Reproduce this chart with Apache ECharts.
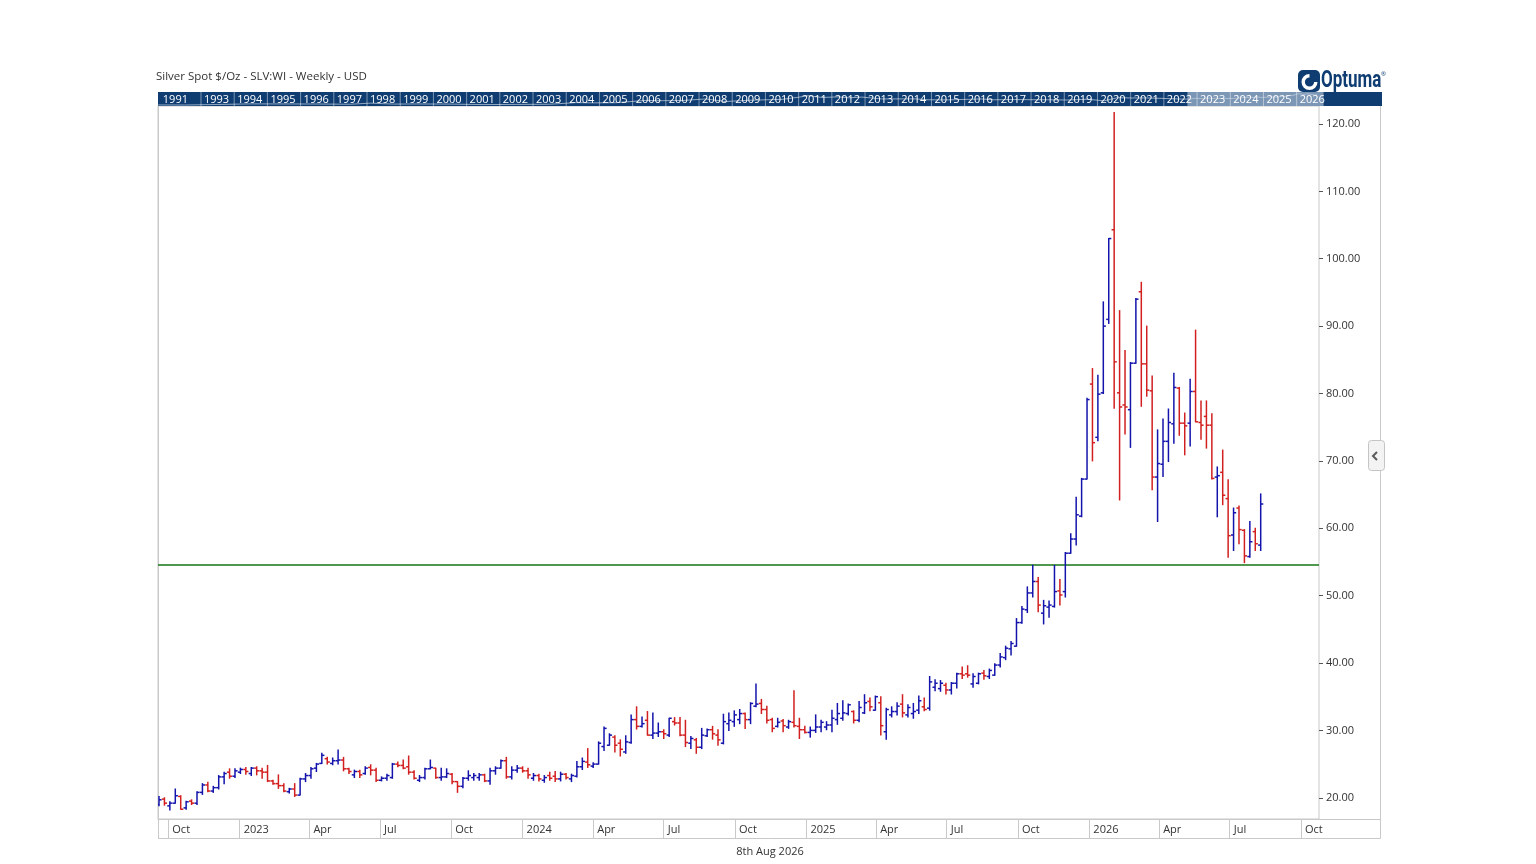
<!DOCTYPE html>
<html>
<head>
<meta charset="utf-8">
<script src="https://cdn.jsdelivr.net/npm/echarts@6.0.0/dist/echarts.min.js"></script>
<style>
  html, body { margin: 0; padding: 0; background: #ffffff; }
  #chart { width: 1536px; height: 864px; }
</style>
</head>
<body>
<div id="chart"></div>
<script>
// ---------- DATA (weekly OHLC) ----------
const firstWeek = '2022-09-19';   // date of the first weekly bar
const opens = [
 19.0,19.8,18.8,19.2,20.2,18.5,19.5,19.2,20.8,21.9,
 21.0,21.5,23.1,23.8,23.2,23.8,24.2,23.6,24.4,24.0,
 23.8,22.5,22.1,21.8,20.9,21.3,20.4,22.8,23.3,24.4,
 25.1,25.8,25.1,25.5,25.6,24.3,23.4,23.9,23.6,24.5,
 24.1,22.6,22.9,23.0,25.0,24.8,24.6,23.8,22.6,23.0,
 24.3,24.4,23.0,23.1,23.5,22.4,21.7,22.9,23.0,23.0,
 23.4,22.5,24.0,24.4,25.5,23.1,24.1,24.4,24.0,22.9,
 23.3,22.6,23.3,23.2,22.8,23.5,22.8,23.2,24.6,25.3,
 24.7,25.0,27.6,27.8,29.0,28.1,26.8,28.2,31.6,30.6,
 31.5,29.3,29.6,29.8,29.3,31.3,31.1,29.3,28.1,28.6,
 27.5,29.2,30.1,29.3,28.1,31.0,31.3,31.6,32.5,31.6,
 33.6,34.0,33.1,31.6,30.6,31.4,30.5,31.2,30.6,30.1,
 29.7,30.0,30.5,30.5,30.8,31.6,31.8,32.5,32.8,31.5,
 32.6,34.3,33.0,34.1,29.8,32.3,32.8,33.9,32.3,32.5,
 33.0,33.5,33.3,36.4,36.2,36.7,36.0,37.0,38.4,38.4,
 36.9,37.0,38.5,38.0,38.2,39.7,40.8,42.1,42.5,46.0,
 47.9,50.4,52.1,47.4,48.3,48.4,50.7,50.6,56.3,58.4,
 61.8,67.3,81.4,73.5,80.1,91.0,104.3,80.1,78.3,77.6,
 84.5,95.1,84.4,80.4,67.6,69.5,72.9,75.5,80.8,75.6,
 75.6,80.3,75.7,76.6,75.3,67.6,68.3,64.4,59.0,63.0,
 59.7,55.8,59.5,57.5
];
const highs = [
 20.2,20.0,19.4,21.3,20.3,19.5,19.7,20.9,22.1,22.3,
 21.7,23.3,23.8,24.3,24.3,24.4,24.5,24.5,24.6,24.4,
 24.8,22.6,23.4,22.1,21.4,22.1,22.9,23.6,24.5,25.1,
 26.6,26.0,25.9,27.1,26.0,24.4,24.1,24.1,24.6,24.9,
 24.4,23.1,23.5,25.1,25.3,25.6,26.2,24.0,23.3,24.4,
 25.6,24.4,24.4,24.3,23.6,22.4,23.0,24.0,23.6,23.6,
 23.5,24.4,24.6,25.6,26.0,24.6,24.8,24.6,24.4,23.6,
 23.5,23.3,23.8,23.9,23.8,23.6,23.5,25.4,25.9,27.3,
 25.2,28.3,30.5,29.5,29.2,28.6,29.2,32.3,33.5,32.0,
 32.8,32.6,31.1,30.1,31.8,31.9,31.9,31.5,29.1,28.8,
 30.3,30.2,30.6,30.1,32.4,32.6,32.9,33.1,32.6,34.1,
 36.9,34.6,33.6,31.8,31.8,31.6,31.5,35.9,31.8,30.6,
 30.5,32.3,31.5,31.3,33.0,34.0,34.4,33.9,32.9,34.3,
 35.3,34.8,35.1,35.0,33.3,33.5,34.1,35.3,33.8,34.0,
 35.1,34.8,38.0,37.5,37.4,37.0,37.1,38.5,39.4,39.6,
 38.4,38.5,38.9,39.1,39.9,41.4,42.5,43.2,46.6,48.4,
 51.3,54.5,52.7,49.3,49.2,54.5,52.4,56.4,59.2,64.6,
 67.4,79.3,83.7,82.7,93.6,103.0,121.7,92.3,86.4,84.6,
 94.1,96.5,90.0,82.6,74.6,76.2,77.7,83.0,80.9,77.1,
 82.1,89.4,78.9,78.9,77.0,69.1,71.6,67.2,63.0,63.3,
 59.8,61.0,60.0,65.1
];
const lows = [
 18.8,18.9,18.2,19.2,18.3,18.3,19.0,19.0,20.5,20.9,
 20.8,21.3,22.1,22.9,23.0,23.6,23.5,23.3,23.4,22.9,
 22.4,22.0,21.4,20.9,20.7,20.2,20.4,22.4,22.9,23.9,
 25.1,25.0,24.9,25.0,24.0,23.6,23.0,23.0,23.5,23.4,
 22.4,22.5,22.6,22.9,24.6,24.3,23.5,22.8,22.4,22.8,
 24.3,22.9,22.6,23.0,22.1,20.8,21.5,22.6,22.6,22.6,
 22.4,22.0,23.5,24.4,22.9,22.8,23.8,23.8,22.9,22.6,
 22.5,22.3,22.6,22.4,22.5,22.8,22.4,23.1,24.2,24.5,
 24.5,25.0,27.0,27.8,26.8,26.2,26.6,28.1,30.2,30.5,
 29.3,28.8,29.1,28.8,29.1,30.8,29.2,27.6,27.3,26.6,
 27.3,29.1,28.7,27.8,28.0,30.0,30.6,31.0,30.3,31.0,
 33.5,32.5,31.1,29.8,30.5,29.8,30.3,30.5,28.8,29.6,
 29.0,29.7,29.8,30.1,29.8,30.9,31.5,32.3,31.1,31.3,
 32.5,32.9,33.0,29.3,28.7,32.0,32.3,32.0,32.0,31.8,
 32.5,32.9,33.0,35.9,35.8,35.4,35.4,36.3,37.7,37.9,
 36.4,36.9,37.6,37.7,38.2,39.4,40.5,41.2,42.5,45.9,
 47.5,49.8,47.6,45.8,46.8,48.3,48.6,49.8,56.3,57.5,
 61.7,67.3,70.0,73.0,80.0,90.4,77.8,64.2,74.0,72.0,
 84.5,78.1,79.6,65.7,61.0,67.7,69.9,72.6,73.8,70.9,
 72.2,75.8,73.2,71.9,67.3,61.7,63.5,55.7,56.7,57.7,
 54.9,55.7,56.7,56.7
];
const closes = [
 19.7,19.2,19.2,20.3,18.3,19.4,19.2,20.8,21.9,21.0,
 21.5,23.1,23.6,23.2,24.0,24.2,23.9,24.4,24.0,23.8,
 22.5,22.1,21.8,21.0,21.3,20.4,22.8,23.3,24.3,25.0,
 26.3,25.3,25.5,25.6,24.3,23.9,23.9,23.4,24.4,24.1,
 22.6,22.9,23.3,25.0,24.8,24.4,23.8,22.9,23.0,24.3,
 24.5,23.0,23.1,23.6,22.4,21.7,22.9,23.3,23.3,23.4,
 22.5,24.0,24.4,25.5,23.1,24.1,24.4,24.0,23.4,23.3,
 22.8,23.0,22.9,22.8,23.5,23.0,23.3,24.6,25.4,24.9,
 25.0,28.1,30.3,29.3,27.8,27.2,28.3,31.6,30.6,31.0,
 29.3,29.6,29.8,29.5,31.8,31.1,29.3,28.2,28.8,27.5,
 29.3,30.1,29.5,28.6,31.3,31.5,32.3,32.5,31.6,34.0,
 33.9,33.1,31.5,30.3,31.2,30.7,31.3,30.7,30.1,29.7,
 30.0,30.5,31.2,30.8,31.8,32.5,32.6,33.8,31.5,33.4,
 34.1,33.5,35.0,30.7,33.1,32.8,33.6,32.6,33.4,32.8,
 34.4,33.1,37.2,37.0,37.0,36.0,37.0,38.4,38.2,38.2,
 38.0,38.4,38.1,38.9,39.7,40.9,42.2,42.9,46.0,48.0,
 50.4,52.1,48.6,48.5,48.6,50.6,50.1,56.3,58.4,62.0,
 67.3,79.1,72.7,79.9,90.0,103.0,84.7,78.0,78.0,84.5,
 94.0,84.4,80.5,67.6,69.6,72.9,75.7,80.9,75.6,75.2,
 80.3,75.8,75.3,75.3,67.4,67.8,64.9,58.9,62.3,59.8,
 55.9,58.0,57.7,63.6
];
const supportLevel = [54.55];
const priceTicks = [20, 30, 40, 50, 60, 70, 80, 90, 100, 110, 120];
const quarterTicks = [
 '2022-10-01','2023-01-01','2023-04-01','2023-07-01','2023-10-01',
 '2024-01-01','2024-04-01','2024-07-01','2024-10-01',
 '2025-01-01','2025-04-01','2025-07-01','2025-10-01',
 '2026-01-01','2026-04-01','2026-07-01','2026-10-01'
];
const monthNames = ['Jan','Feb','Mar','Apr','May','Jun','Jul','Aug','Sep','Oct','Nov','Dec'];
// overview band (long history of silver, approximate)
const bandYears = [1993,1994,1995,1996,1997,1998,1999,2000,2001,2002,2003,2004,2005,2006,2007,2008,2009,
  2010,2011,2012,2013,2014,2015,2016,2017,2018,2019,2020,2021,2022,2023,2024,2025,2026];
const historyX = [1991.71,1992.5,1993.5,1994.5,1995.5,1996.5,1997.5,1998.1,1998.8,1999.5,2000.5,2001.5,2002.5,
  2003.5,2004.3,2004.8,2005.5,2006.4,2006.9,2007.5,2008.2,2008.8,2009.5,2010.5,2010.95,2011.3,2011.7,2012.2,
  2012.5,2012.9,2013.5,2014.5,2014.9,2015.5,2016.5,2016.9,2017.5,2018.5,2019.1,2019.7,2020.2,2020.6,2021.0,
  2021.5,2022.0,2022.6];
const historyPrice = [4.0,3.9,4.5,5.3,5.2,5.1,4.8,6.5,5.0,5.2,5.0,4.4,4.6,4.8,7.5,7.0,7.3,13.5,12.5,13.2,20,10,
  14,18,30,48,30,35,27,33,20,20.5,16,15.5,20,16,17,16,15,18.5,12,28,26,26,23,19];
const bandWindow = [2022.71, 2026.81];

// ---------- helpers ----------
const DAY = 86400000;
function parseDay(s) { const p = s.split('-').map(Number); return Date.UTC(p[0], p[1] - 1, p[2]); }
const start = parseDay(firstWeek);
const weekDates = opens.map((_, i) => start + i * 7 * DAY);
const quarterMs = quarterTicks.map(parseDay);
const xMin = start - 1.3 * DAY, xMax = start + 1496.2 * DAY;
function yearFrac(ms) {
  const y = new Date(ms).getUTCFullYear();
  const a = Date.UTC(y, 0, 1), b = Date.UTC(y + 1, 0, 1);
  return y + (ms - a) / (b - a);
}
const ohlcData = weekDates.map((d, i) => [d, opens[i], highs[i], lows[i], closes[i]]);
const supportData = [[xMin, supportLevel[0]], [xMax, supportLevel[0]]];
const bandLine = historyX.map((x, i) => [x, historyPrice[i]])
  .concat(weekDates.map((d, i) => [yearFrac(d), closes[i]]));
const bandLabelData = [[1991.76, 1991, 0]].concat(bandYears.map(y => [y, y, 1]));

const BLUE = '#1414ac';
const RED = '#d21f1f';
const GREEN = '#167516';
const FONT = "'Open Sans', 'Noto Sans', sans-serif";
const NAVY = '#0f3d72';
const FRAME = '#c9c9c9';

function renderOHLC(params, api) {
  const x = api.value(0);
  const o = api.value(1), h = api.value(2), l = api.value(3), c = api.value(4);
  const pH = api.coord([x, h]), pL = api.coord([x, l]);
  const pO = api.coord([x, o]), pC = api.coord([x, c]);
  const color = c >= o ? BLUE : RED;
  const t = 2.6, w = 1.5;
  return {
    type: 'group',
    children: [
      { type: 'line', shape: { x1: pH[0], y1: pH[1] - 0.5, x2: pL[0], y2: pL[1] + 0.5 }, style: { stroke: color, lineWidth: w } },
      { type: 'line', shape: { x1: pO[0] - t, y1: pO[1], x2: pO[0], y2: pO[1] }, style: { stroke: color, lineWidth: w } },
      { type: 'line', shape: { x1: pC[0], y1: pC[1], x2: pC[0] + t, y2: pC[1] }, style: { stroke: color, lineWidth: w } }
    ]
  };
}

function renderBandLabel(params, api) {
  const cs = params.coordSys;
  const x = api.coord([api.value(0), 10])[0];
  const children = [];
  if (api.value(2) === 1) {
    children.push({ type: 'line', shape: { x1: x, y1: cs.y, x2: x, y2: cs.y + cs.height },
      style: { stroke: 'rgba(255,255,255,0.45)', lineWidth: 1 } });
  }
  children.push({ type: 'text', x: x + 3, y: cs.y + cs.height / 2 + 0.5,
    style: { text: String(api.value(1)), fill: '#ffffff', font: '11px ' + FONT, textVerticalAlign: 'middle', textAlign: 'left' } });
  return { type: 'group', children: children };
}

const chart = echarts.init(document.getElementById('chart'), null, { renderer: 'canvas' });
chart.setOption({
  backgroundColor: '#ffffff',
  animation: false,
  grid: [
    { left: 158, right: 217, top: 106, bottom: 45, show: true, borderColor: FRAME, borderWidth: 1, backgroundColor: '#ffffff' },
    { left: 158, right: 154, top: 92, height: 14, show: true, borderWidth: 0, backgroundColor: NAVY }
  ],
  xAxis: [
    {
      type: 'value', gridIndex: 0, scale: true, min: xMin, max: xMax,
      axisLine: { show: true, lineStyle: { color: FRAME } },
      axisTick: { show: true, customValues: quarterMs, length: 19, lineStyle: { color: FRAME } },
      axisLabel: {
        customValues: quarterMs, align: 'left', margin: 5, padding: [0, 0, 0, 4],
        color: '#333', fontSize: 11, fontFamily: FONT,
        formatter: function (v) {
          const d = new Date(v);
          return d.getUTCMonth() === 0 ? String(d.getUTCFullYear()) : monthNames[d.getUTCMonth()];
        }
      },
      splitLine: { show: false }
    },
    { type: 'value', gridIndex: 1, min: 1991.705, max: 2028.57, show: false }
  ],
  yAxis: [
    {
      type: 'value', gridIndex: 0, position: 'right', min: 16.85, max: 122.67,
      axisLine: { show: false },
      axisTick: { show: true, customValues: priceTicks, length: 4, lineStyle: { color: '#555' } },
      axisLabel: { customValues: priceTicks, margin: 7, color: '#333', fontSize: 11, fontFamily: FONT,
        formatter: v => v.toFixed(2) },
      splitLine: { show: false }
    },
    { type: 'log', gridIndex: 1, min: 3, max: 130, show: false }
  ],
  series: [
    {
      type: 'line', name: 'Support', xAxisIndex: 0, yAxisIndex: 0, data: supportData,
      showSymbol: false, symbol: 'none', silent: true, z: 3,
      itemStyle: { color: GREEN }, lineStyle: { color: GREEN, width: 1.5, type: 'solid', opacity: 1 }
    },
    {
      type: 'custom', name: 'Silver', xAxisIndex: 0, yAxisIndex: 0,
      renderItem: renderOHLC, data: ohlcData, encode: { x: 0, y: [1, 2, 3, 4] }, z: 5, clip: true
    },
    {
      type: 'line', xAxisIndex: 1, yAxisIndex: 1, data: bandLine, showSymbol: false, silent: true,
      lineStyle: { color: 'rgba(190,204,222,0.75)', width: 1 }, z: 2,
      markArea: { silent: true, itemStyle: { color: 'rgba(215,224,236,0.55)' },
        data: [[{ xAxis: bandWindow[0] }, { xAxis: bandWindow[1] }]] }
    },
    {
      type: 'custom', xAxisIndex: 1, yAxisIndex: 1, renderItem: renderBandLabel, data: bandLabelData,
      encode: { x: 0 }, z: 4, silent: true, clip: true
    }
  ],
  graphic: [
    { type: 'text', left: 156, top: 71, style: { text: 'Silver Spot $/Oz - SLV:WI - Weekly - USD', fill: '#333', font: '11.5px ' + FONT } },
    { type: 'text', x: 770, y: 852, style: { text: '8th Aug 2026', fill: '#333', font: '11px ' + FONT, textAlign: 'center', textVerticalAlign: 'middle' } },
    { type: 'line', shape: { x1: 158.5, y1: 106, x2: 158.5, y2: 838.5 }, style: { stroke: FRAME, lineWidth: 1 } },
    { type: 'line', shape: { x1: 158, y1: 838.5, x2: 1380.5, y2: 838.5 }, style: { stroke: FRAME, lineWidth: 1 } },
    { type: 'line', shape: { x1: 1380.5, y1: 106, x2: 1380.5, y2: 838.5 }, style: { stroke: FRAME, lineWidth: 1 } },
    { type: 'line', shape: { x1: 1319, y1: 819.5, x2: 1380.5, y2: 819.5 }, style: { stroke: FRAME, lineWidth: 1 } },
    { type: 'rect', shape: { x: 1368.5, y: 440.5, width: 16, height: 30, r: 3 }, style: { fill: '#f3f3f3', stroke: '#c4c4c4', lineWidth: 1 } },
    { type: 'polyline', shape: { points: [[1377, 452], [1373, 456], [1377, 460]] }, style: { stroke: '#5a5a5a', lineWidth: 2, fill: null } },
    { type: 'rect', shape: { x: 1298, y: 70, width: 22, height: 22, r: 5 }, style: { fill: NAVY } },
    { type: 'arc', shape: { cx: 1309.5, cy: 82, r: 6.3, startAngle: 0, endAngle: Math.PI * 1.5, clockwise: true }, style: { stroke: '#ffffff', lineWidth: 3.4, fill: null } },
    { type: 'circle', shape: { cx: 1309.5, cy: 82, r: 2.2 }, style: { fill: NAVY } },
    { type: 'text', x: 1321, y: 81, scaleX: 0.74, originX: 0, originY: 0,
      style: { text: 'Optuma', fill: NAVY, font: 'bold 23px Roboto, ' + FONT, textVerticalAlign: 'middle', textAlign: 'left' } },
    { type: 'text', x: 1381, y: 71, style: { text: '®', fill: NAVY, font: '6px ' + FONT } }
  ]
});
</script>
</body>
</html>
